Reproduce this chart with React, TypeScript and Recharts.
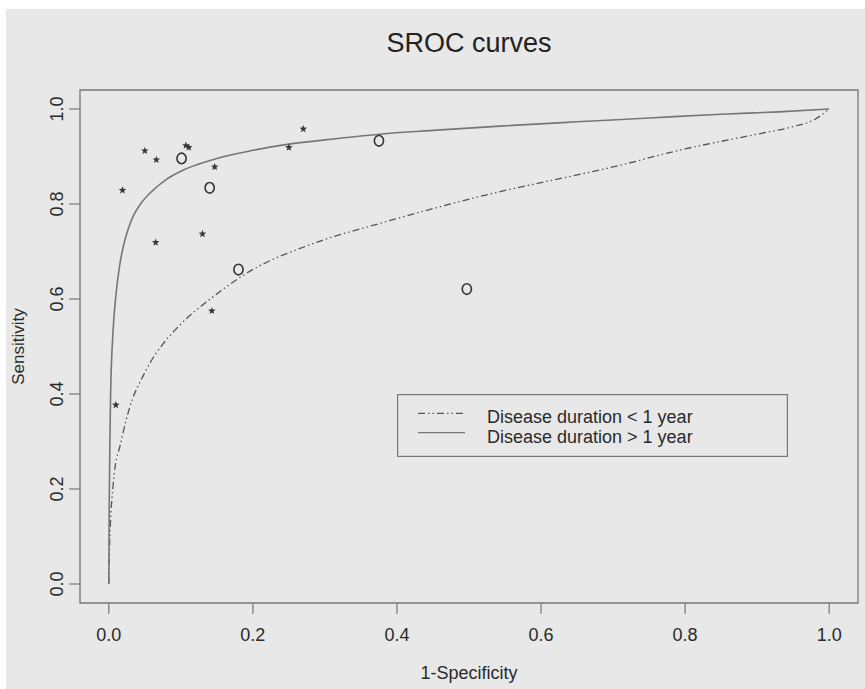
import React from 'react'
import { ComposedChart, Label, Legend, Line, ReferenceArea, Scatter, XAxis, YAxis } from 'recharts'

const FONT = '"Liberation Sans", Arial, Helvetica, sans-serif'
const INK = '#2a2a2a'
const FRAME = '#777777'

const axisTicks = [0, 0.2, 0.4, 0.6, 0.8, 1.0]
const seriesNames = ['Disease duration < 1 year', 'Disease duration > 1 year']

// SROC curve, disease duration < 1 year (dash-dot)
const shortFpr = [0, 0.0005, 0.0015, 0.003, 0.0055, 0.009, 0.0153, 0.024, 0.033, 0.045, 0.057, 0.075, 0.094, 0.145, 0.191, 0.284, 0.376, 0.469, 0.543, 0.6, 0.7, 0.8, 0.9, 0.95, 0.98, 1.0]
const shortSens = [0, 0.04, 0.1, 0.15, 0.2, 0.25, 0.289, 0.345, 0.39, 0.43, 0.465, 0.505, 0.538, 0.605, 0.654, 0.717, 0.759, 0.798, 0.826, 0.845, 0.878, 0.916, 0.947, 0.963, 0.978, 1.0]

// SROC curve, disease duration > 1 year (solid)
const longFpr = [0, 0.0003, 0.0008, 0.0015, 0.0025, 0.006, 0.01, 0.015, 0.02, 0.027, 0.035, 0.045, 0.06, 0.08, 0.1, 0.125, 0.15, 0.2, 0.25, 0.3, 0.376, 0.45, 0.543, 0.65, 0.75, 0.85, 0.93, 1.0]
const longSens = [0, 0.1, 0.2, 0.3, 0.4, 0.535, 0.61, 0.67, 0.71, 0.748, 0.778, 0.802, 0.827, 0.852, 0.869, 0.884, 0.896, 0.913, 0.926, 0.935, 0.947, 0.955, 0.964, 0.973, 0.981, 0.989, 0.994, 1.0]

// individual studies
const starFpr = [0.0097, 0.019, 0.05, 0.065, 0.066, 0.107, 0.111, 0.13, 0.143, 0.147, 0.25, 0.27]
const starSens = [0.377, 0.829, 0.912, 0.719, 0.893, 0.923, 0.919, 0.737, 0.575, 0.878, 0.919, 0.958]
const circleFpr = [0.101, 0.14, 0.18, 0.375, 0.497]
const circleSens = [0.896, 0.834, 0.662, 0.933, 0.621]

const zip = (xs: number[], ys: number[]) => xs.map((x, i) => ({ x, y: ys[i] }))

const shortCurve = zip(shortFpr, shortSens)
const longCurve = zip(longFpr, longSens)
const stars = zip(starFpr, starSens)
const circles = zip(circleFpr, circleSens)

const dashFor: Record<string, string | undefined> = {
  [seriesNames[0]]: '7 3 1.5 3 1.5 3',
  [seriesNames[1]]: undefined,
}

function StarShape(props: any) {
  const { cx, cy } = props
  if (cx == null || cy == null) return null
  const pts: string[] = []
  for (let i = 0; i < 10; i++) {
    const r = i % 2 === 0 ? 4 : 1.7
    const a = -Math.PI / 2 + (i * Math.PI) / 5
    pts.push(`${cx + r * Math.cos(a)},${cy + r * Math.sin(a)}`)
  }
  return <polygon points={pts.join(' ')} fill="#383838" />
}

function CircleShape(props: any) {
  const { cx, cy } = props
  if (cx == null || cy == null) return null
  return <ellipse cx={cx} cy={cy} rx={4.6} ry={5.3} fill="none" stroke="#333" strokeWidth={1.6} />
}

function RotatedTick(props: any) {
  const { x, y, payload } = props
  return (
    <text
      x={x}
      y={y}
      transform={`rotate(-90, ${x}, ${y})`}
      textAnchor="middle"
      fontSize={18}
      fontFamily={FONT}
      fill={INK}
    >
      {Number(payload.value).toFixed(1)}
    </text>
  )
}

const renderXLabel = (props: any) => {
  const vb = props.viewBox || { x: 80, y: 603, width: 778, height: 86 }
  return (
    <text x={vb.x + vb.width / 2} y={vb.y + 76} textAnchor="middle" fontSize={18} fontFamily={FONT} fill={INK}>
      1-Specificity
    </text>
  )
}

const renderYLabel = (props: any) => {
  const vb = props.viewBox || { x: 0, y: 90, width: 80, height: 513 }
  const x = vb.x + 24
  const y = vb.y + vb.height / 2
  return (
    <text x={x} y={y} transform={`rotate(-90, ${x}, ${y})`} textAnchor="middle" fontSize={17} fontFamily={FONT} fill={INK}>
      Sensitivity
    </text>
  )
}

const renderLegend = (props: any) => {
  const payload = (props.payload || []).filter((p: any) => seriesNames.includes(p.value))
  return (
    <svg width={391} height={63} style={{ display: 'block' }}>
      <rect x={0.6} y={0.6} width={389.8} height={61.8} fill="none" stroke={FRAME} strokeWidth={1.2} />
      {payload.map((entry: any, i: number) => (
        <g key={entry.value}>
          <line
            x1={21}
            x2={68}
            y1={19.3 + i * 19.4}
            y2={19.3 + i * 19.4}
            stroke={entry.color}
            strokeWidth={1.3}
            strokeDasharray={dashFor[entry.value]}
          />
          <text x={90} y={28.7 + i * 20.6} fontSize={18} fontFamily={FONT} fill={INK}>
            {entry.value}
          </text>
        </g>
      ))}
    </svg>
  )
}

export default function App() {
  return (
    <div style={{ position: 'absolute', left: 0, top: 0, width: 865, height: 689, background: '#fff', overflow: 'hidden' }}>
      <div style={{ position: 'absolute', left: 6, top: 9, right: 0, bottom: 0, background: '#e8e8e8' }} />
      <div
        style={{
          position: 'absolute',
          left: 269,
          top: 30,
          width: 400,
          textAlign: 'center',
          fontFamily: FONT,
          fontSize: 27,
          lineHeight: '27px',
          color: '#222',
        }}
      >
        SROC curves
      </div>
      <ComposedChart
        width={865}
        height={689}
        margin={{ top: 90, right: 7, bottom: 0, left: 0 }}
        style={{ position: 'absolute', left: 0, top: 0 }}
      >
        <XAxis
          type="number"
          dataKey="x"
          domain={[-0.04, 1.04]}
          ticks={axisTicks}
          interval={0}
          allowDataOverflow
          height={86}
          stroke={FRAME}
          axisLine={false}
          tickLine={{ stroke: FRAME, strokeWidth: 1.2 }}
          tickSize={11}
          tickMargin={14}
          tick={{ fontSize: 18, fill: INK, fontFamily: FONT }}
          tickFormatter={(v: number) => v.toFixed(1)}
        >
          <Label content={renderXLabel} />
        </XAxis>
        <YAxis
          type="number"
          dataKey="y"
          domain={[-0.04, 1.04]}
          ticks={axisTicks}
          interval={0}
          allowDataOverflow
          width={80}
          stroke={FRAME}
          axisLine={false}
          tickLine={{ stroke: FRAME, strokeWidth: 1.2 }}
          tickSize={11}
          tickMargin={6}
          tick={<RotatedTick />}
        >
          <Label content={renderYLabel} />
        </YAxis>
        <ReferenceArea
          x1={-0.04}
          x2={1.04}
          y1={-0.04}
          y2={1.04}
          fill="none"
          fillOpacity={0}
          stroke={FRAME}
          strokeWidth={1.3}
          ifOverflow="visible"
        />
        <Line
          data={shortCurve}
          dataKey="y"
          name={seriesNames[0]}
          type="monotone"
          stroke="#555"
          strokeWidth={1.3}
          strokeDasharray={dashFor[seriesNames[0]]}
          dot={false}
          activeDot={false}
          isAnimationActive={false}
        />
        <Line
          data={longCurve}
          dataKey="y"
          name={seriesNames[1]}
          type="monotone"
          stroke="#767676"
          strokeWidth={1.6}
          dot={false}
          activeDot={false}
          isAnimationActive={false}
        />
        <Scatter data={stars} shape={StarShape} legendType="none" isAnimationActive={false} />
        <Scatter data={circles} shape={CircleShape} legendType="none" isAnimationActive={false} />
        <Legend
          layout="horizontal"
          verticalAlign="middle"
          align="center"
          content={renderLegend}
          wrapperStyle={{ position: 'absolute', left: 397, top: 394, width: 391, height: 63 }}
        />
      </ComposedChart>
    </div>
  )
}
